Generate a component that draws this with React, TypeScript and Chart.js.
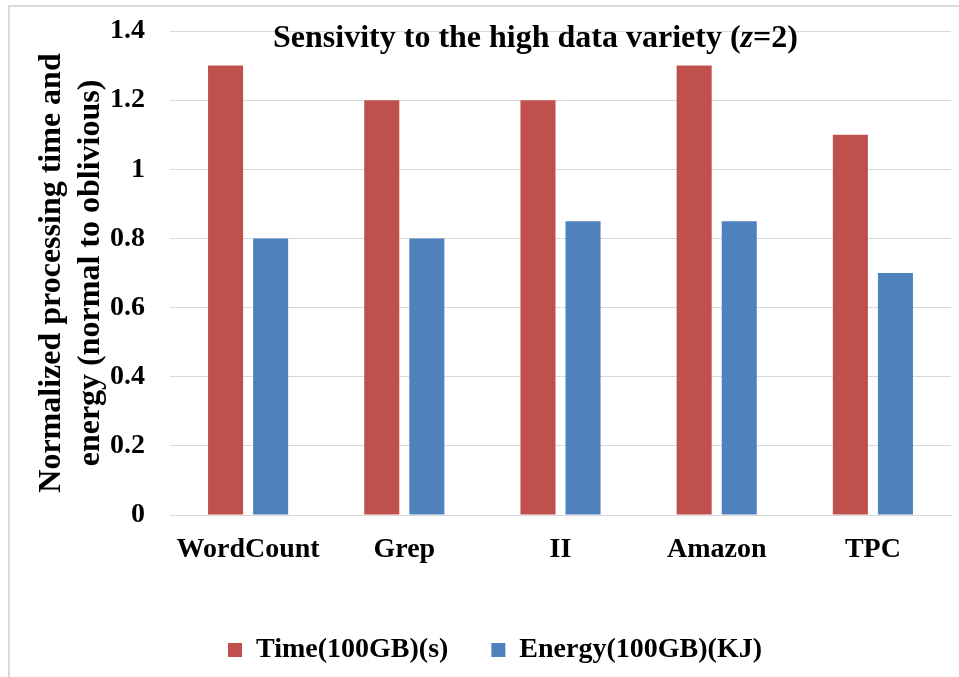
import React, { useEffect, useRef } from "react";
import { Chart, registerables } from "chart.js";

Chart.register(...registerables);

const categories = ["WordCount", "Grep", "II", "Amazon", "TPC"];
const timeValues = [1.3, 1.2, 1.2, 1.3, 1.1];
const energyValues = [0.8, 0.8, 0.85, 0.85, 0.7];
const seriesLabels = ["Time(100GB)(s)", "Energy(100GB)(KJ)"];
const yTicks = [0, 0.2, 0.4, 0.6, 0.8, 1, 1.2, 1.4];
const yTitle = ["Normalized processing time and", "energy (normal to oblivious)"];
const titleParts = [
  { text: "Sensivity to the high data variety (", italic: false },
  { text: "z", italic: true },
  { text: "=2)", italic: false },
];

const FONT = "'Liberation Serif', 'Times New Roman', serif";

const titlePlugin = {
  id: "customTitle",
  afterDraw(chart: any, _args: any, opts: any) {
    const ctx = chart.ctx;
    ctx.save();
    const size = opts.size;
    const widths = titleParts.map((p) => {
      ctx.font = `${p.italic ? "italic " : ""}bold ${size}px ${FONT}`;
      return ctx.measureText(p.text).width;
    });
    const total = widths.reduce((a, b) => a + b, 0);
    let x = opts.centerX - total / 2;
    ctx.fillStyle = "#000";
    ctx.textBaseline = "alphabetic";
    ctx.textAlign = "left";
    titleParts.forEach((p, i) => {
      ctx.font = `${p.italic ? "italic " : ""}bold ${size}px ${FONT}`;
      ctx.fillText(p.text, x, opts.baseline);
      x += widths[i];
    });
    ctx.restore();
  },
};

export default function App() {
  const ref = useRef<HTMLCanvasElement | null>(null);

  useEffect(() => {
    if (!ref.current) return;
    Chart.defaults.font.family = FONT;
    const chart = new Chart(ref.current, {
      type: "bar",
      data: {
        labels: categories,
        datasets: [
          {
            label: seriesLabels[0],
            data: timeValues,
            backgroundColor: "#C0504D",
            categoryPercentage: 0.577,
            barPercentage: 0.778,
          },
          {
            label: seriesLabels[1],
            data: energyValues,
            backgroundColor: "#4F81BD",
            categoryPercentage: 0.577,
            barPercentage: 0.778,
          },
        ],
      },
      plugins: [titlePlugin],
      options: {
        responsive: false,
        animation: false,
        layout: { padding: { top: 31, left: 39, right: 8, bottom: 3 } },
        scales: {
          x: {
            grid: { display: false, drawTicks: false },
            border: { display: true, color: "#d9d9d9", width: 1 },
            ticks: {
              padding: 18,
              color: "#000",
              font: { size: 28, weight: "bold", family: FONT },
              maxRotation: 0,
            },
            afterFit: (scale: any) => {
              scale.height = 78;
            },
          },
          y: {
            min: 0,
            max: 1.4,
            grid: { color: "#d9d9d9", lineWidth: 1, drawTicks: false },
            border: { display: false },
            afterBuildTicks: (scale: any) => {
              scale.ticks = yTicks.map((v) => ({ value: v }));
            },
            ticks: {
              padding: 25,
              color: "#000",
              font: { size: 28, weight: "bold", family: FONT, lineHeight: 0.2 },
              callback: (v: any) => String(Math.round(Number(v) * 10) / 10),
            },
            title: {
              display: true,
              text: yTitle,
              color: "#000",
              padding: { top: -6, bottom: 0 },
              font: { size: 32, weight: "bold", family: FONT, lineHeight: 1.2 },
            },
            afterFit: (scale: any) => {
              scale.width = 131;
            },
          },
        },
        plugins: {
          legend: {
            position: "bottom",
            labels: {
              boxWidth: 14,
              boxHeight: 14,
              padding: 43,
              color: "#000",
              font: { size: 28, weight: "bold", family: FONT },
            },
          },
          tooltip: { enabled: false },
          customTitle: { size: 32, centerX: 535.5, baseline: 47 },
        } as any,
      },
    });
    return () => chart.destroy();
  }, []);

  return (
    <div style={{ position: "fixed", inset: 0, overflow: "hidden", background: "#fff" }}>
      <canvas
        ref={ref}
        width={959}
        height={677}
        style={{ position: "absolute", left: 0, top: 0, width: 959, height: 677 }}
      />
      <div
        style={{
          position: "absolute",
          left: 8,
          top: 5,
          width: 3000,
          height: 3000,
          borderLeft: "2px solid #dadada",
          borderTop: "2px solid #dadada",
          pointerEvents: "none",
        }}
      />
    </div>
  );
}
